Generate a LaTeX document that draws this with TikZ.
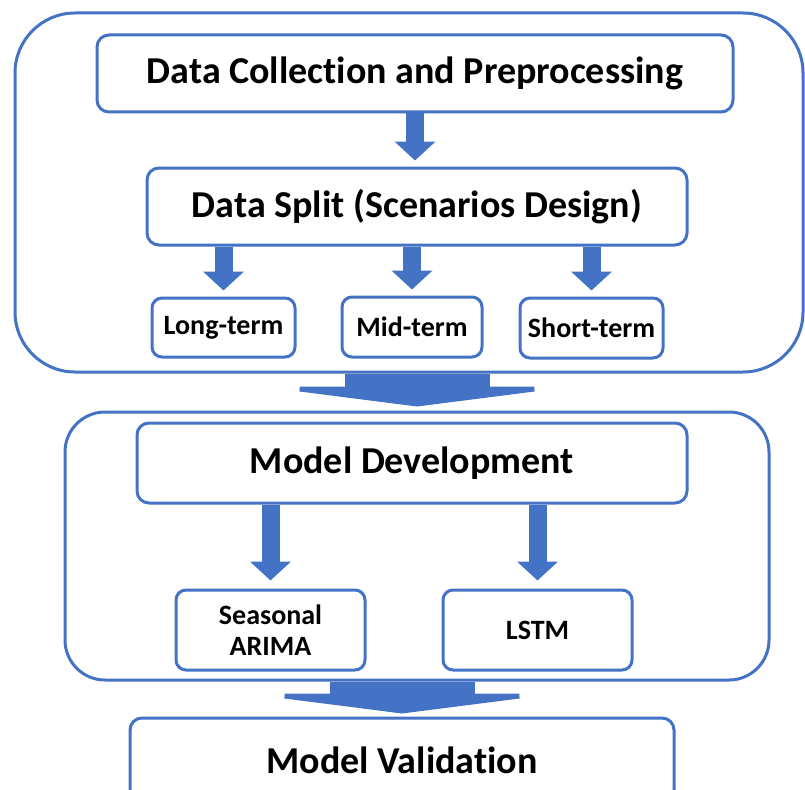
\documentclass[tikz,border=0pt]{standalone}
\usepackage{fontspec}
\setmainfont{Carlito}[Ligatures=NoCommon]
\usepackage{tikz}
\usetikzlibrary{arrows.meta,calc,positioning}
\definecolor{flowblue}{RGB}{68,114,196}

\begin{document}
\begin{tikzpicture}[x=1pt,y=-1pt,
  stage/.style={draw=flowblue,line width=3pt,inner sep=0pt},
  box/.style={draw=flowblue,line width=3pt,rounded corners=12pt,fill=white,
    align=center,inner sep=0pt,font=\fontsize{38}{44}\selectfont\bfseries},
  smallbox/.style={box,rounded corners=10pt,font=\fontsize{28}{31}\selectfont\bfseries},
  downarrow/.style={draw=flowblue,line width=18pt,-{Triangle[width=40pt,length=19pt]},shorten >=6pt},
  bigarrow/.style={draw=flowblue,line width=145pt,-{Triangle[width=313pt,length=20pt]},shorten >=4pt}]
  \useasboundingbox (0,0) rectangle (805,789);
  \node[stage,rounded corners=60pt,minimum width=788pt,minimum height=359pt] (stage1) at (409,192.5) {};
  \node[stage,rounded corners=40pt,minimum width=704pt,minimum height=268pt] (stage2) at (417,546) {};
  \node[box,minimum width=636pt,minimum height=77pt] (collect) at (415,73.5) {Data Collection and Preprocessing};
  \node[box,minimum width=540pt,minimum height=77pt] (split) at (417,206.5) {Data Split (Scenarios Design)};
  \node[smallbox,minimum width=143pt,minimum height=59pt] (long) at (223.5,327.5) {Long-term};
  \node[smallbox,minimum width=140pt,minimum height=60pt] (mid) at (412,327) {Mid-term};
  \node[smallbox,minimum width=143pt,minimum height=60pt] (short) at (591.5,328) {Short-term};
  \node[box,minimum width=550pt,minimum height=80pt] (dev) at (412,463) {Model Development};
  \node[smallbox,minimum width=189pt,minimum height=80pt] (sarima) at (270.5,630) {Seasonal\\ARIMA};
  \node[smallbox,minimum width=189pt,minimum height=80pt] (lstm) at (537.5,630) {LSTM};
  \node[box,minimum width=544pt,minimum height=84pt] (valid) at (402,760) {Model Validation};
  \draw[downarrow] (collect.south) -- (collect.south |- split.north);
  \draw[downarrow] (long.north |- split.south) -- (long.north);
  \draw[downarrow] (mid.north |- split.south) -- (mid.north);
  \draw[downarrow] (short.north |- split.south) -- (short.north);
  \draw[downarrow,shorten >=8pt] (sarima.north |- dev.south) -- (sarima.north);
  \draw[downarrow,shorten >=8pt] (lstm.north |- dev.south) -- (lstm.north);
  \draw[bigarrow] (stage2.north |- stage1.south) -- (stage2.north);
  \draw[bigarrow,shorten >=3pt] (valid.north |- stage2.south) -- (valid.north);
\end{tikzpicture}
\end{document}
